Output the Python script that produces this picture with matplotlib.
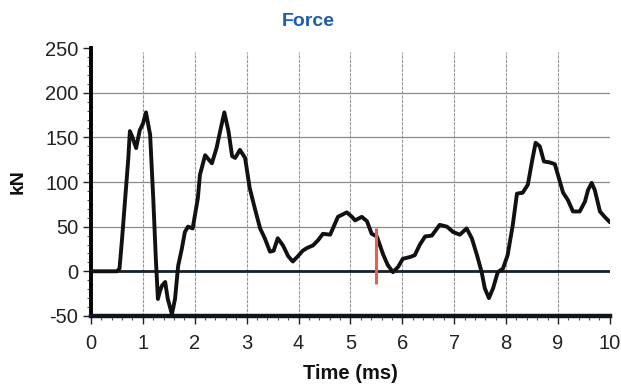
import matplotlib
matplotlib.use("Agg")
import matplotlib.pyplot as plt
from matplotlib.ticker import MultipleLocator

plt.rcParams["font.family"] = ["Liberation Sans", "DejaVu Sans"]
plt.rcParams["axes.unicode_minus"] = False

# force trace (time in ms, force in kN)
time_ms = [
    0.0, 0.5, 0.55, 0.6, 0.66, 0.72, 0.75, 0.8, 0.87, 0.94, 1.0, 1.06, 1.14,
    1.2, 1.25, 1.29, 1.33, 1.37, 1.43, 1.48, 1.56, 1.62, 1.68, 1.75, 1.81,
    1.87, 1.96, 2.06, 2.1, 2.2, 2.33, 2.42, 2.49, 2.57, 2.65, 2.72, 2.78,
    2.87, 2.97, 3.06, 3.16, 3.26, 3.35, 3.45, 3.52, 3.6, 3.7, 3.8, 3.89,
    3.99, 4.08, 4.16, 4.28, 4.38, 4.47, 4.61, 4.7, 4.76, 4.93, 5.03, 5.09,
    5.22, 5.32, 5.41, 5.51, 5.63, 5.72, 5.82, 5.92, 6.01, 6.15, 6.24, 6.34,
    6.44, 6.57, 6.72, 6.86, 6.98, 7.11, 7.24, 7.34, 7.44, 7.53, 7.59, 7.67,
    7.75, 7.84, 7.94, 8.03, 8.13, 8.21, 8.32, 8.42, 8.5, 8.57, 8.65, 8.73,
    8.84, 8.94, 9.0, 9.1, 9.19, 9.29, 9.42, 9.52, 9.58, 9.65, 9.71, 9.81,
    9.9, 10.0,
]
force_kn = [
    0, 0, 3, 37, 82, 127, 157, 150, 138, 158, 165, 178, 153,
    82, 14, -31, -22, -16, -12, -31, -48, -31, 6, 25, 44,
    50, 48, 82, 108, 130, 121, 138, 157, 178, 157, 129, 127,
    136, 127, 93, 70, 48, 37, 22, 23, 37, 29, 17, 11,
    17, 23, 26, 29, 35, 42, 41, 53, 61, 66, 61, 57,
    61, 56, 42, 39, 19, 7, -1, 5, 14, 16, 18, 30,
    39, 40, 52, 50, 44, 41, 48, 37, 18, -1, -19, -30,
    -19, -1, 3, 18, 52, 87, 88, 97, 123, 144, 140, 123,
    122, 120, 108, 88, 80, 67, 67, 78, 91, 99, 91, 67,
    61, 55,
]

# cursor marker
marker_t = 5.5
marker_range = [-14, 48]

fig = plt.figure(figsize=(6.21, 3.91), dpi=100)
ax = fig.add_axes([0.1465, 0.192, 0.8355, 0.685])

ax.set_xlim(0, 10)
ax.set_ylim(-50, 250)

ax.xaxis.set_major_locator(MultipleLocator(1))
ax.xaxis.set_minor_locator(MultipleLocator(0.2))
ax.yaxis.set_major_locator(MultipleLocator(50))
ax.yaxis.set_minor_locator(MultipleLocator(10))

for y in [50, 100, 150, 200]:
    ax.axhline(y, color="#8a8a8a", lw=0.9, zorder=1)
for x in range(1, 10):
    ax.axvline(x, ymax=0.985, color="#999999", lw=0.8, ls=(0, (3, 1)), zorder=1)

ax.axhline(0, color="#15202c", lw=2.0, zorder=2)

ax.plot(time_ms, force_kn, color="#111111", lw=2.8, solid_joinstyle="round",
        solid_capstyle="round", zorder=3)
ax.vlines(marker_t, marker_range[0], marker_range[1], color="#e8604f", lw=2.2, zorder=4)

for side in ["top", "right"]:
    ax.spines[side].set_visible(False)
ax.spines["left"].set_linewidth(2.8)
ax.spines["bottom"].set_linewidth(3.2)
ax.spines["bottom"].set_color("#0d1620")

ax.tick_params(which="major", direction="out", length=6, width=1.0,
               labelsize=14.5, colors="#222222", pad=3)
ax.tick_params(which="minor", direction="out", length=3, width=0.8, colors="#555555")
ax.tick_params(axis="x", which="major", pad=7)

ax.set_xlabel("Time (ms)", fontsize=14.5, fontweight="bold", color="#111111", labelpad=8)
ax.set_ylabel("kN", fontsize=14, fontweight="bold", color="#111111", labelpad=13)
fig.text(0.496, 0.945, "Force", ha="center", va="center", fontsize=14,
         fontweight="bold", color="#1f5ea8")

fig.savefig("out.png", dpi=100, facecolor="white")
